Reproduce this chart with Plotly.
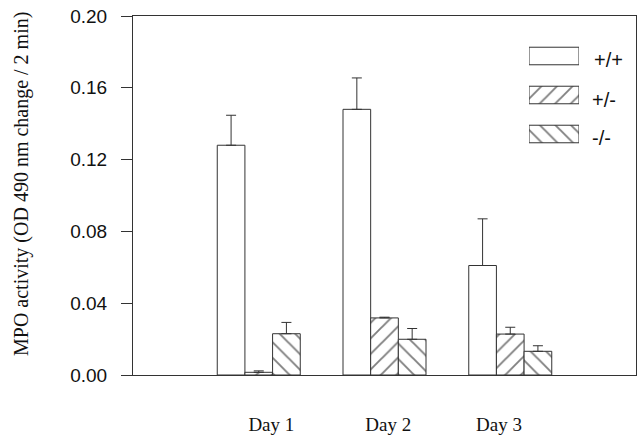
import plotly.graph_objects as go

# ---- data ----
days = ["Day 1", "Day 2", "Day 3"]
day_pos = [1, 2, 3]
genotypes = ["+/+", "+/-", "-/-"]
wt_mean = [0.128, 0.148, 0.061]
wt_err = [0.0167, 0.0175, 0.026]
het_mean = [0.0015, 0.0318, 0.0228]
het_err = [0.0008, 0.0004, 0.0038]
ko_mean = [0.023, 0.0199, 0.0132]
ko_err = [0.0063, 0.006, 0.0031]
y_ticks = [0.00, 0.04, 0.08, 0.12, 0.16, 0.20]

# ---- style ----
W, H = 643, 442
L, R, T, B = 133, 7, 16, 67
pw, ph = W - L - R, H - T - B
LINE = "#333333"
patterns = ["", "/", "\\"]
sans = "Liberation Sans, Arial, sans-serif"
serif = "Liberation Serif, Times New Roman, serif"
day_label_pos = [1.10, 2.03, 2.91]


def px_x(p):
    return (p - L) / pw


def px_y(p):
    return (H - B - p) / ph


pattern_style = dict(fgcolor="#000000", bgcolor="white", size=11, solidity=0.17)

fig = go.Figure()
series = [(wt_mean, wt_err), (het_mean, het_err), (ko_mean, ko_err)]
for name, (m, e), pat in zip(genotypes, series, patterns):
    fig.add_trace(go.Bar(
        x=day_pos, y=m, name=name, showlegend=False,
        marker=dict(color="white", line=dict(color=LINE, width=1),
                    pattern=dict(shape=pat, **pattern_style)),
        error_y=dict(type="data", array=e, arrayminus=[0] * len(e), symmetric=False,
                     color=LINE, thickness=1, width=5),
    ))

# legend keys drawn as horizontal bars in a small overlay subplot
fig.add_trace(go.Bar(
    x=[1, 1, 1], y=[0, 1, 2], orientation="h", width=0.45, showlegend=False,
    xaxis="x2", yaxis="y2", hoverinfo="skip",
    marker=dict(color="white", line=dict(color=LINE, width=1),
                pattern=dict(shape=patterns, **pattern_style)),
))

annotations = [
    dict(text="MPO activity (OD 490 nm change / 2 min)", textangle=-90,
         xref="paper", yref="paper", x=px_x(21), y=px_y(184),
         xanchor="center", yanchor="middle", showarrow=False,
         font=dict(family=serif, size=20, color="#111111")),
]
for g, (lx, ly) in zip(genotypes, [(592, 60), (590, 100), (590, 138)]):
    annotations.append(dict(text=g, xref="paper", yref="paper", x=px_x(lx), y=px_y(ly),
                            xanchor="left", yanchor="middle", showarrow=False,
                            font=dict(family=sans, size=20, color="#111111")))

fig.update_layout(
    width=W, height=H, autosize=False,
    margin=dict(l=L, r=R, t=T, b=B, pad=0),
    plot_bgcolor="white", paper_bgcolor="white",
    barmode="group", bargap=0.34, bargroupgap=0,
    showlegend=False,
    xaxis=dict(range=[0, 4], tickmode="array", tickvals=day_label_pos, ticktext=days,
               showline=True, mirror=True, linecolor=LINE, linewidth=1,
               ticks="", showgrid=False, zeroline=False,
               ticklabelstandoff=32,
               tickfont=dict(family=serif, size=19, color="#111111")),
    yaxis=dict(range=[0, 0.2], tickmode="array", tickvals=y_ticks, tickformat=".2f",
               showline=True, mirror=True, linecolor=LINE, linewidth=1,
               ticks="outside", ticklen=11, tickcolor=LINE, tickwidth=1,
               showgrid=False, zeroline=False, ticklabelstandoff=10,
               tickfont=dict(family=sans, size=19, color="#111111")),
    xaxis2=dict(domain=[px_x(529), px_x(579)], range=[0, 1], anchor="y2",
                visible=False, fixedrange=True),
    yaxis2=dict(domain=[px_y(153.5), px_y(36.5)], range=[2.5, -0.5], anchor="x2",
                visible=False, fixedrange=True),
    annotations=annotations,
)

fig.write_html(
    "out.html",
    config={"displayModeBar": False},
    post_script="document.body.style.margin='0px';document.body.style.overflow='hidden';",
)
